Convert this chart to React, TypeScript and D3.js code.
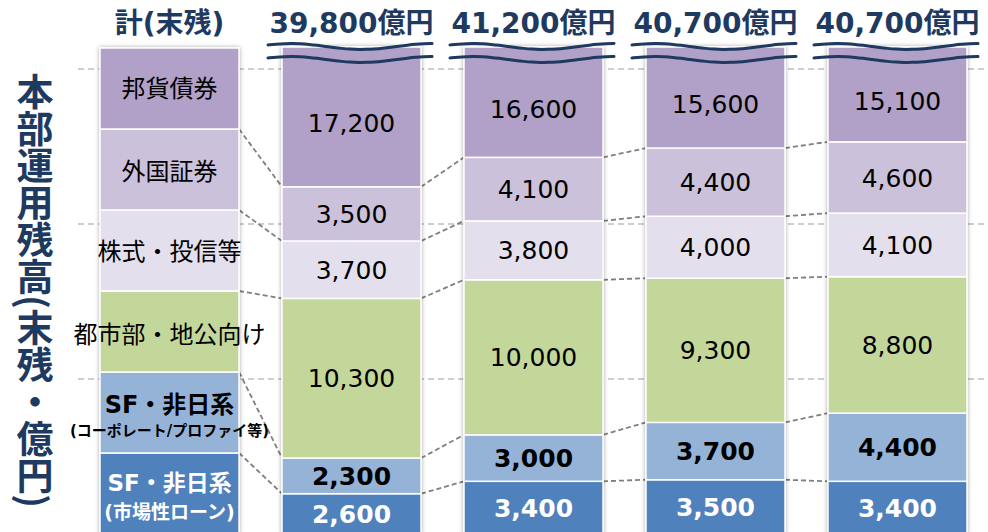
import React from 'react';
import * as d3 from 'd3';

// periods (columns) and totals shown above each bar
const periods = ['p1', 'p2', 'p3', 'p4'];
const totalLabels = ['39,800億円', '41,200億円', '40,700億円', '40,700億円'];

// series, bottom -> top of the stack
const seriesKeys = ['sfMarket', 'sfCorporate', 'urban', 'equity', 'foreign', 'domestic'];
const sfMarket = [2600, 3400, 3500, 3400];
const sfCorporate = [2300, 3000, 3700, 4400];
const urban = [10300, 10000, 9300, 8800];
const equity = [3700, 3800, 4000, 4100];
const foreign = [3500, 4100, 4400, 4600];
const domestic = [17200, 16600, 15600, 15100];

const gridValues = [10000, 20000, 30000];

const NAVY = '#1F3A60';
const colors: Record<string, string> = {
  sfMarket: '#4F81BD',
  sfCorporate: '#95B3D7',
  urban: '#C4D79B',
  equity: '#E4DFEC',
  foreign: '#CCC1DA',
  domestic: '#B1A0C7',
};

// legend labels (one entry per series, possibly two lines)
const legendLines: Record<string, { text: string; size: number; bold: boolean; dy: number }[]> = {
  domestic: [{ text: '邦貨債券', size: 24, bold: false, dy: 0 }],
  foreign: [{ text: '外国証券', size: 24, bold: false, dy: 2 }],
  equity: [{ text: '株式・投信等', size: 24, bold: false, dy: 1 }],
  urban: [{ text: '都市部・地公向け', size: 24, bold: false, dy: 3 }],
  sfCorporate: [
    { text: 'SF・非日系', size: 24, bold: true, dy: -8 },
    { text: '(コーポレート/プロファイ等)', size: 15, bold: true, dy: 18 },
  ],
  sfMarket: [
    { text: 'SF・非日系', size: 23, bold: true, dy: -11 },
    { text: '(市場性ローン)', size: 19, bold: true, dy: 19 },
  ],
};

const yTitle = '本部運用残高(末残・億円)';

const W = 988;
const H = 532;
const BAR_TOP = 47;

const App: React.FC = () => {
  const rows = periods.map((p, i) => ({
    period: p,
    sfMarket: sfMarket[i],
    sfCorporate: sfCorporate[i],
    urban: urban[i],
    equity: equity[i],
    foreign: foreign[i],
    domestic: domestic[i],
  }));
  const stacked = d3.stack<any>().keys(seriesKeys)(rows);

  const x = d3.scaleBand<string>()
    .domain(['legend', ...periods])
    .range([100, 967])
    .paddingInner(0.236)
    .paddingOuter(0);
  const bw = x.bandwidth();

  const y = d3.scaleLinear().domain([0, 30000]).range([534, 69]);

  const yLegend = d3.scaleBand<string>()
    .domain([...seriesKeys].reverse())
    .range([48, 534]);
  const lh = yLegend.bandwidth();
  const lx = x('legend') as number;

  // wave shape for the broken bar top
  const wave = (x0: number, x1: number, yc: number) => {
    const pts: [number, number][] = d3.range(0, 1.0001, 0.05).map(t => [
      x0 + (x1 - x0) * t,
      yc - 3 * Math.cos((2 * Math.PI * (t - 0.14)) / 0.86),
    ]);
    return d3.line().curve(d3.curveBasis)(pts) as string;
  };

  // connector lines between boundaries
  const connectors: { x1: number; y1: number; x2: number; y2: number }[] = [];
  for (let j = 0; j < seriesKeys.length - 1; j++) {
    connectors.push({
      x1: lx + bw,
      y1: yLegend(seriesKeys[j]) as number,
      x2: x(periods[0]) as number,
      y2: y(stacked[j][0][1]),
    });
    for (let i = 0; i < periods.length - 1; i++) {
      connectors.push({
        x1: (x(periods[i]) as number) + bw,
        y1: y(stacked[j][i][1]),
        x2: x(periods[i + 1]) as number,
        y2: y(stacked[j][i + 1][1]),
      });
    }
  }

  const numFont = '"DejaVu Sans", Verdana, "Noto Sans CJK JP", sans-serif';
  const jpFont = '"Noto Sans CJK JP", "Noto Sans", sans-serif';
  const mixFont = '"DejaVu Sans", "Noto Sans CJK JP", sans-serif';

  return (
    <svg width={W} height={H} style={{ position: 'absolute', left: 0, top: 0, background: '#fff' }}>
      <defs>
        <filter id="barShadow" x="-10%" y="-5%" width="120%" height="110%">
          <feDropShadow dx="0" dy="0" stdDeviation="2.2" floodColor="#000" floodOpacity="0.35" />
        </filter>
      </defs>
      <rect x={0} y={0} width={W} height={H} fill="#fff" />

      {/* gridlines */}
      {gridValues.map(v => (
        <line key={v} x1={78} x2={W} y1={y(v)} y2={y(v)}
          stroke="#BFBFBF" strokeWidth={1.5} strokeDasharray="6,4" />
      ))}

      {/* connectors */}
      {connectors.map((c, k) => (
        <line key={k} x1={c.x1} y1={c.y1} x2={c.x2} y2={c.y2}
          stroke="#7F7F7F" strokeWidth={1.8} strokeDasharray="5,3" />
      ))}

      {/* legend column */}
      <g filter="url(#barShadow)">
        {seriesKeys.map(k => (
          <rect key={k} x={lx} y={yLegend(k)} width={bw} height={lh}
            fill={colors[k]} stroke="#fff" strokeWidth={1.5} />
        ))}
      </g>
      {seriesKeys.map(k => {
        const cy = (yLegend(k) as number) + lh / 2;
        return legendLines[k].map((ln, n) => (
          <text key={k + n} x={lx + bw / 2} y={cy + ln.dy} dy="0.36em" textAnchor="middle"
            fontSize={ln.size} fontWeight={ln.bold ? 700 : 400}
            fontFamily={ln.bold ? mixFont : jpFont}
            fill={k === 'sfMarket' ? '#fff' : '#000'}>
            {ln.text}
          </text>
        ));
      })}

      {/* bars */}
      {periods.map((p, i) => (
        <g key={p} filter="url(#barShadow)">
          {stacked.map(s => {
            const top = Math.max(y(s[i][1]), BAR_TOP);
            return (
              <rect key={s.key} x={x(p)} y={top} width={bw} height={y(s[i][0]) - top}
                fill={colors[s.key]} stroke="#fff" strokeWidth={1.5} />
            );
          })}
        </g>
      ))}

      {/* value labels */}
      {periods.map((p, i) =>
        stacked.map(s => {
          const isTop = s.key === 'domestic';
          const y0 = y(s[i][0]);
          const y1 = isTop ? 60 : y(s[i][1]);
          const bold = s.key === 'sfMarket' || s.key === 'sfCorporate';
          return (
            <text key={p + s.key} x={(x(p) as number) + bw / 2} y={(y0 + y1) / 2} dy="0.36em"
              textAnchor="middle" fontSize={25} fontWeight={bold ? 700 : 400}
              fontFamily={numFont} fill={s.key === 'sfMarket' ? '#fff' : '#000'}>
              {d3.format(',')(s[i][1] - s[i][0])}
            </text>
          );
        })
      )}

      {/* broken-axis waves */}
      {periods.map(p => {
        const x0 = (x(p) as number) - 14;
        const x1 = (x(p) as number) + bw + 11;
        return (
          <g key={'w' + p} fill="none" stroke={NAVY} strokeWidth={3} strokeLinecap="round">
            <path d={wave(x0, x1, 46.5)} />
            <path d={wave(x0, x1, 59.5)} />
          </g>
        );
      })}

      {/* totals */}
      {periods.map((p, i) => (
        <text key={'t' + p} x={(x(p) as number) + bw / 2} y={33} textAnchor="middle"
          fontSize={28} fontWeight={700} fontFamily={mixFont} fill={NAVY}>
          {totalLabels[i]}
        </text>
      ))}
      <text x={lx + bw / 2} y={33} textAnchor="middle" fontSize={28} fontWeight={700}
        fontFamily={mixFont} fill={NAVY}>
        計(末残)
      </text>

      {/* vertical title */}
      <text x={35} y={73} fontSize={37} fontWeight={700} fontFamily={jpFont} fill={NAVY}
        style={{ writingMode: 'vertical-rl' as any }}>
        {yTitle}
      </text>
    </svg>
  );
};

export default App;
